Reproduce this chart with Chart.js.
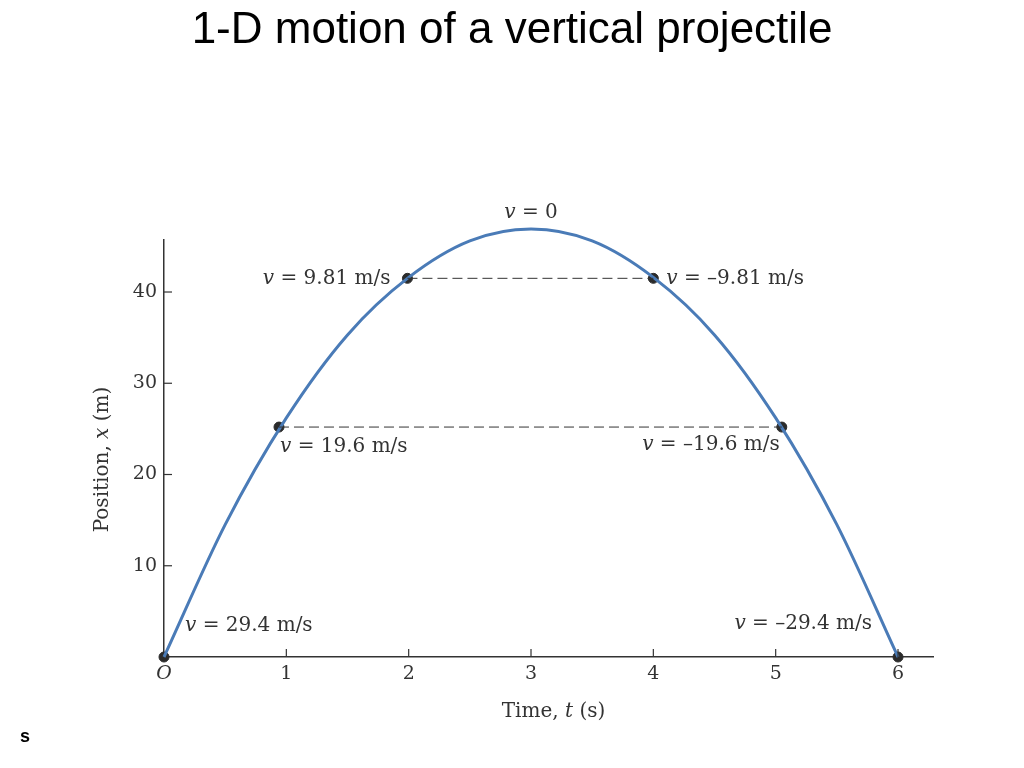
<!DOCTYPE html>
<html>
<head>
<meta charset="utf-8">
<script src="https://cdn.jsdelivr.net/npm/chart.js@4/dist/chart.umd.min.js"></script>
<style>
  html, body { margin: 0; padding: 0; background: #fff; }
  #wrap { width: 1024px; height: 768px; }
</style>
</head>
<body>
<div id="wrap"><canvas id="chart" width="1024" height="768"></canvas></div>
<script>
// curve
const timeValues = [0, 0.5, 1, 1.5, 2, 2.5, 3, 3.5, 4, 4.5, 5, 5.5, 6]
const positionValues = [0, 14.5, 26.2, 35.3, 41.6, 45.6, 46.9, 45.6, 41.6, 35.3, 26.2, 14.5, 0]

// marked points and their velocity labels
const markerTimes = [0, 0.94, 1.99, 3, 4, 5.05, 6]
const markerPositions = [0, 25.2, 41.5, 46.9, 41.5, 25.2, 0]
const velocityLabels = [' = 29.4 m/s', ' = 19.6 m/s', ' = 9.81 m/s', ' = 0', ' = \u20139.81 m/s', ' = \u201319.6 m/s', ' = \u201329.4 m/s']

const xTicks = [0, 1, 2, 3, 4, 5, 6]
const yTicks = [10, 20, 30, 40]

const titleText = '1-D motion of a vertical projectile'

const SERIF = '"DejaVu Serif", "Liberation Serif", serif'
const ink = '#333333'

const toPoints = (xs, ys) => xs.map((x, i) => ({ x: x, y: ys[i] }))

// label placement relative to each marker: [dx, dy, align]
const labelPlace = [
    [21, -31, 'left'],
    [1, 20, 'left'],
    [-17, 0, 'right'],
    [0, -16, 'center'],
    [13, 0, 'left'],
    [-2, 18, 'right'],
    [-26, -33, 'right'],
]

function drawMixed(ctx, parts, x, y, align) {
    // parts: [[text, italic], ...]
    let total = 0
    parts.forEach(p => {
        ctx.font = (p[1] ? 'italic ' : '') + '20px ' + SERIF
        total += ctx.measureText(p[0]).width
    })
    let start = x
    if (align === 'right') start = x - total
    if (align === 'center') start = x - total / 2
    ctx.textAlign = 'left'
    ctx.textBaseline = 'middle'
    parts.forEach(p => {
        ctx.font = (p[1] ? 'italic ' : '') + '20px ' + SERIF
        ctx.fillText(p[0], start, y)
        start += ctx.measureText(p[0]).width
    })
}

const annotations = {
    id: 'annotations',
    afterDatasetsDraw(chart) {
        const ctx = chart.ctx
        const xs = chart.scales.x
        const ys = chart.scales.y
        const area = chart.chartArea
        ctx.save()
        ctx.fillStyle = ink
        ctx.strokeStyle = ink
        ctx.lineWidth = 1.2

        // inward tick marks
        xTicks.slice(1).forEach(v => {
            const px = xs.getPixelForValue(v)
            ctx.beginPath()
            ctx.moveTo(px, area.bottom)
            ctx.lineTo(px, area.bottom - 8)
            ctx.stroke()
        })
        yTicks.forEach(v => {
            const py = ys.getPixelForValue(v)
            ctx.beginPath()
            ctx.moveTo(area.left, py)
            ctx.lineTo(area.left + 8, py)
            ctx.stroke()
        })

        // velocity labels
        markerTimes.forEach((t, i) => {
            const px = xs.getPixelForValue(t)
            const py = ys.getPixelForValue(markerPositions[i])
            const p = labelPlace[i]
            drawMixed(ctx, [['v', true], [velocityLabels[i], false]], px + p[0], py + p[1], p[2])
        })

        // axis titles
        drawMixed(ctx, [['Time, ', false], ['t', true], [' (s)', false]], (area.left + area.right) / 2 + 5, area.bottom + 55, 'center')
        ctx.save()
        ctx.translate(103, (area.top + area.bottom) / 2 + 11)
        ctx.rotate(-Math.PI / 2)
        drawMixed(ctx, [['Position, ', false], ['x', true], [' (m)', false]], 0, 0, 'center')
        ctx.restore()

        // page title
        ctx.fillStyle = '#000'
        ctx.font = '44px "Liberation Sans", Arial, sans-serif'
        ctx.textAlign = 'center'
        ctx.textBaseline = 'alphabetic'
        ctx.fillText(titleText, 512, 43)

        // stray letter in the corner
        ctx.font = 'bold 18px "Liberation Sans", Arial, sans-serif'
        ctx.textAlign = 'left'
        ctx.fillText('s', 20, 742)
        ctx.restore()
    }
}

new Chart(document.getElementById('chart'), {
    type: 'line',
    data: {
        datasets: [
            {
                data: toPoints([markerTimes[2], markerTimes[4]], [markerPositions[2], markerPositions[4]]),
                borderColor: '#333',
                borderWidth: 1,
                borderDash: [10, 5],
                pointRadius: 0,
            },
            {
                data: toPoints([markerTimes[1], markerTimes[5]], [markerPositions[1], markerPositions[5]]),
                borderColor: '#333',
                borderWidth: 1,
                borderDash: [10, 5],
                pointRadius: 0,
            },
            {
                data: toPoints(timeValues, positionValues),
                borderColor: '#4a7bb7',
                borderWidth: 3,
                pointRadius: 0,
                cubicInterpolationMode: 'monotone',
                clip: false,
            },
            {
                data: toPoints(markerTimes, markerPositions),
                showLine: false,
                pointRadius: 5,
                pointBackgroundColor: '#2b2b2b',
                pointBorderColor: '#2b2b2b',
                clip: false,
            },
        ]
    },
    options: {
        responsive: false,
        animation: false,
        layout: { padding: { left: 0, right: 91, top: 240, bottom: 0 } },
        plugins: {
            legend: { display: false },
            tooltip: { enabled: false },
            title: { display: false },
        },
        scales: {
            x: {
                type: 'linear',
                min: 0,
                max: 6.286,
                afterFit: (s) => { s.height = 111 },
                border: { display: true, color: ink, width: 1.5 },
                grid: { display: false, drawTicks: false },
                ticks: {
                    stepSize: 1,
                    includeBounds: false,
                    padding: 6,
                    color: ink,
                    maxRotation: 0,
                    font: (c) => ({ family: SERIF, size: 19, style: c.tick && c.tick.value === 0 ? 'italic' : 'normal' }),
                    callback: (v) => v === 0 ? 'O' : v,
                },
            },
            y: {
                type: 'linear',
                min: 0,
                max: 45.7,
                afterFit: (s) => { s.width = 164 },
                border: { display: true, color: ink, width: 1.5 },
                grid: { display: false, drawTicks: false },
                ticks: {
                    stepSize: 10,
                    includeBounds: false,
                    padding: 7,
                    color: ink,
                    font: { family: SERIF, size: 19 },
                    callback: (v) => v === 0 ? '' : v,
                },
            },
        },
    },
    plugins: [annotations],
})
</script>
</body>
</html>
